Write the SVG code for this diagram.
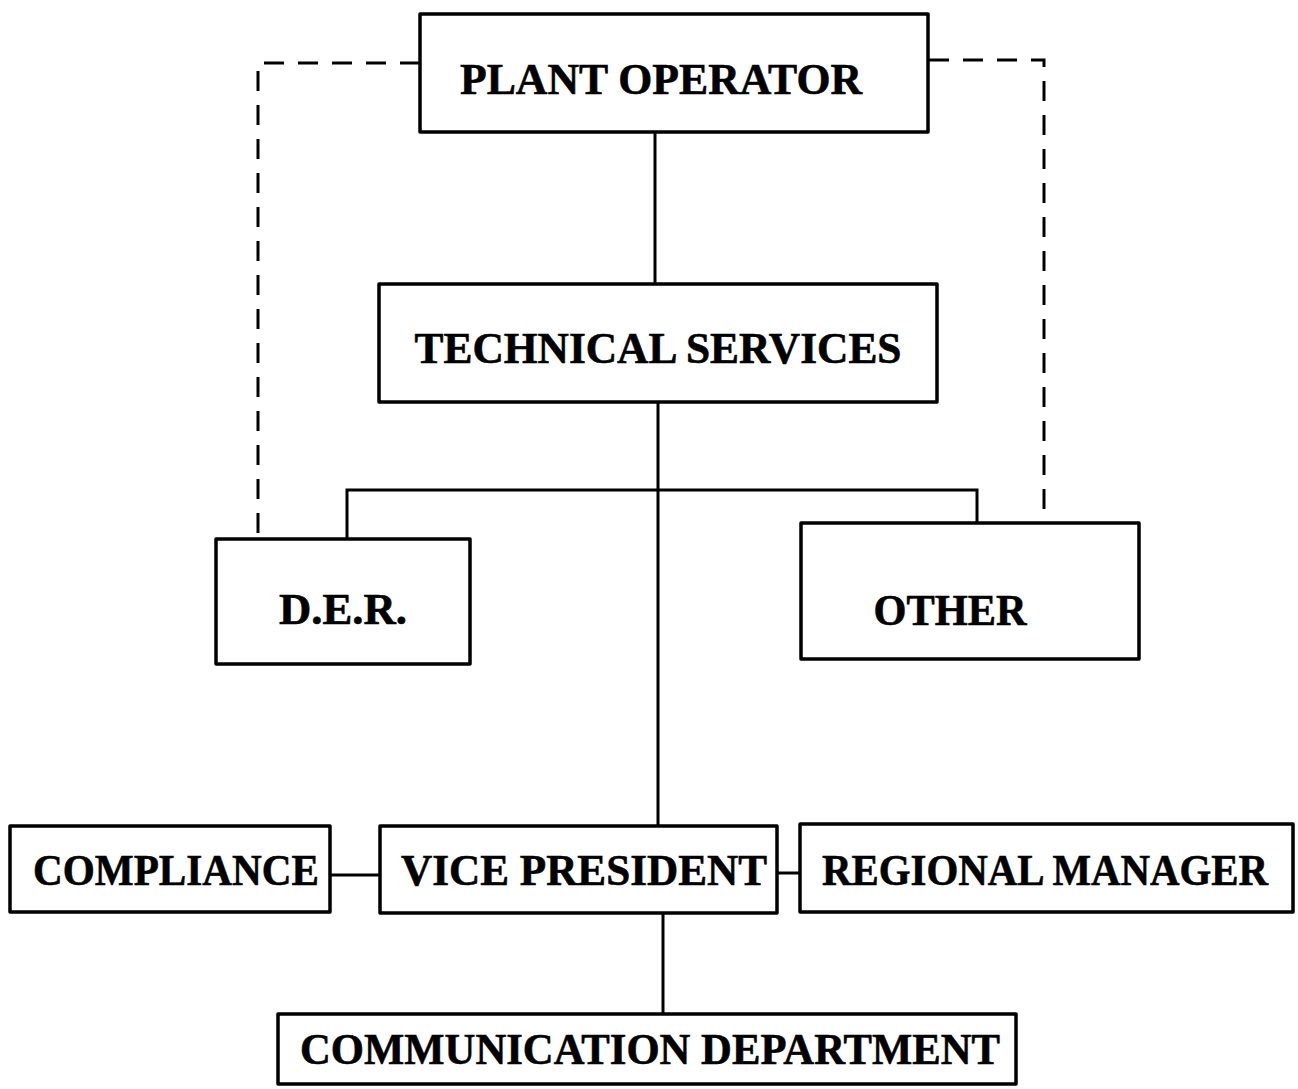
<svg xmlns="http://www.w3.org/2000/svg" width="1298" height="1089" viewBox="0 0 1298 1089">
<style>
.box{fill:none;stroke:#000;stroke-width:3.5;stroke-linejoin:round}
.lbl{font-family:"Liberation Serif","Times New Roman",serif;font-weight:bold;font-size:45px;fill:#000;text-anchor:middle;stroke:#000;stroke-width:0.6}
.ln{fill:none;stroke:#000;stroke-width:3}
.dash{fill:none;stroke:#000;stroke-width:3;stroke-dasharray:20 14}
</style>
<rect width="1298" height="1089" fill="#fff"/>
<g id="connectors">
<path class="dash" d="M420,63 H258 V537"/>
<path class="dash" d="M929,60 H1044 V522"/>
<path class="ln" d="M655,133 V283"/>
<path class="ln" d="M658,402 V825"/>
<path class="ln" d="M347,538 V490 H977 V522"/>
<path class="ln" d="M330,875 H380" stroke-width="4"/>
<path class="ln" d="M777,873 H800"/>
<path class="ln" d="M663,913 V1014"/>
</g>
<g id="plant-operator">
<rect class="box" x="420" y="14" width="508" height="118"/>
<text class="lbl" x="661" y="94" textLength="402" lengthAdjust="spacingAndGlyphs">PLANT OPERATOR</text>
</g>
<g id="technical-services">
<rect class="box" x="379" y="284" width="558" height="118"/>
<text class="lbl" x="658" y="363" textLength="487" lengthAdjust="spacingAndGlyphs">TECHNICAL SERVICES</text>
</g>
<g id="der">
<rect class="box" x="216" y="539" width="254" height="125"/>
<text class="lbl" x="343" y="624" textLength="128" lengthAdjust="spacingAndGlyphs">D.E.R.</text>
</g>
<g id="other">
<rect class="box" x="801" y="523" width="338" height="136"/>
<text class="lbl" x="950" y="625" textLength="153" lengthAdjust="spacingAndGlyphs">OTHER</text>
</g>
<g id="compliance">
<rect class="box" x="10" y="826" width="320" height="86"/>
<text class="lbl" x="176" y="885" font-size="43" textLength="286" lengthAdjust="spacingAndGlyphs">COMPLIANCE</text>
</g>
<g id="vice-president">
<rect class="box" x="380" y="826" width="397" height="87"/>
<text class="lbl" x="584" y="885" font-size="43" textLength="366" lengthAdjust="spacingAndGlyphs">VICE PRESIDENT</text>
</g>
<g id="regional-manager">
<rect class="box" x="800" y="824" width="493" height="88"/>
<text class="lbl" x="1045" y="885" font-size="40" textLength="446" lengthAdjust="spacingAndGlyphs">REGIONAL MANAGER</text>
</g>
<g id="communication-department">
<rect class="box" x="278" y="1014" width="738" height="70"/>
<text class="lbl" x="650" y="1064" font-size="42" textLength="700" lengthAdjust="spacingAndGlyphs">COMMUNICATION DEPARTMENT</text>
</g>
</svg>
